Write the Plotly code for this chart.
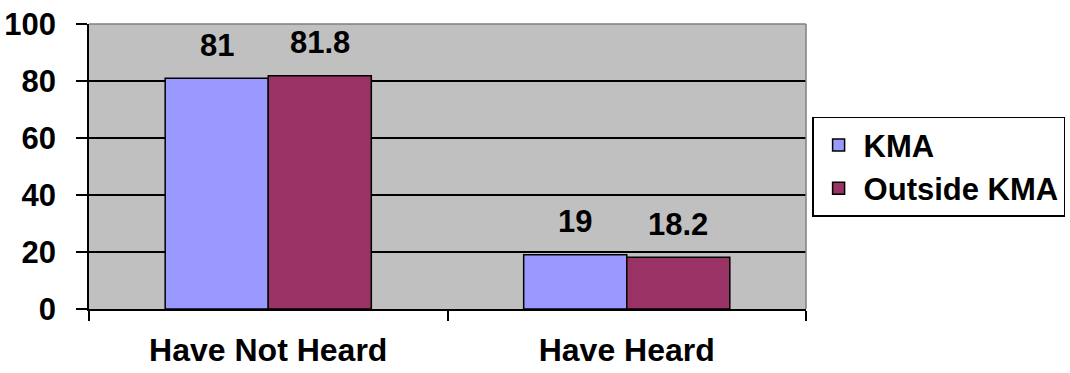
import plotly.graph_objects as go

categories = ["Have Not Heard", "Have Heard"]
kma = [81, 19]
outside_kma = [81.8, 18.2]
y_ticks = [0, 20, 40, 60, 80, 100]

FONT = "Arial, Liberation Sans, sans-serif"
FS = 31
W, H = 1070, 373
ML, MR, MT, MB = 89, 264, 24, 64
plot_w = W - ML - MR
bargap = 0.425
bar_px = plot_w / len(categories) * (1 - bargap) / 2

fig = go.Figure()
fig.add_trace(go.Bar(name="<b>KMA</b>", x=categories, y=kma,
                     marker=dict(color="#9999FF", line=dict(color="black", width=1.5))))
fig.add_trace(go.Bar(name="<b>Outside KMA</b>", x=categories, y=outside_kma,
                     marker=dict(color="#993366", line=dict(color="black", width=1.5))))

for vals, sign in ((kma, -1), (outside_kma, 1)):
    for c, v in zip(categories, vals):
        fig.add_annotation(x=c, y=v, text=f"<b>{v:g}</b>", showarrow=False,
                           xshift=sign * bar_px / 2, yshift=33, yanchor="middle",
                           font=dict(family=FONT, size=FS, color="black"))

fig.add_shape(type="line", xref="paper", yref="paper", x0=0, x1=1, y0=1, y1=1,
              line=dict(color="#808080", width=1.5), layer="above")
fig.add_shape(type="line", xref="paper", yref="paper", x0=1, x1=1, y0=0, y1=1,
              line=dict(color="#808080", width=1.5), layer="above")

fig.update_layout(
    width=W, height=H,
    margin=dict(l=ML, r=MR, t=MT, b=MB, autoexpand=False),
    barmode="group", bargap=bargap, bargroupgap=0,
    plot_bgcolor="#C0C0C0", paper_bgcolor="white",
    font=dict(family=FONT, size=FS, color="black"),
    legend=dict(x=1.0085, y=0.674, xanchor="left", yanchor="top",
                bordercolor="black", borderwidth=1.5, bgcolor="white",
                font=dict(family=FONT, size=FS, color="black"),
                itemwidth=40, tracegroupgap=0),
    xaxis=dict(showline=True, linecolor="black", linewidth=1.5, automargin=False,
               ticks="outside", ticklen=10, tickcolor="black", tickwidth=1.5,
               tickson="boundaries", ticklabelstandoff=12,
               tickfont=dict(family=FONT, size=32, color="black", weight="bold")),
    yaxis=dict(range=[0, 100], tickvals=y_ticks, showline=True, linecolor="black",
               linewidth=1.5, ticks="outside", ticklen=11, tickcolor="black",
               tickwidth=1.5, showgrid=True, gridcolor="black", gridwidth=1.5,
               zeroline=False, ticklabelstandoff=14, automargin=False,
               tickfont=dict(family=FONT, size=FS, color="black", weight="bold")),
)

fig.write_html("out.html", config={"displayModeBar": False},
               post_script="document.body.style.margin='0';")
